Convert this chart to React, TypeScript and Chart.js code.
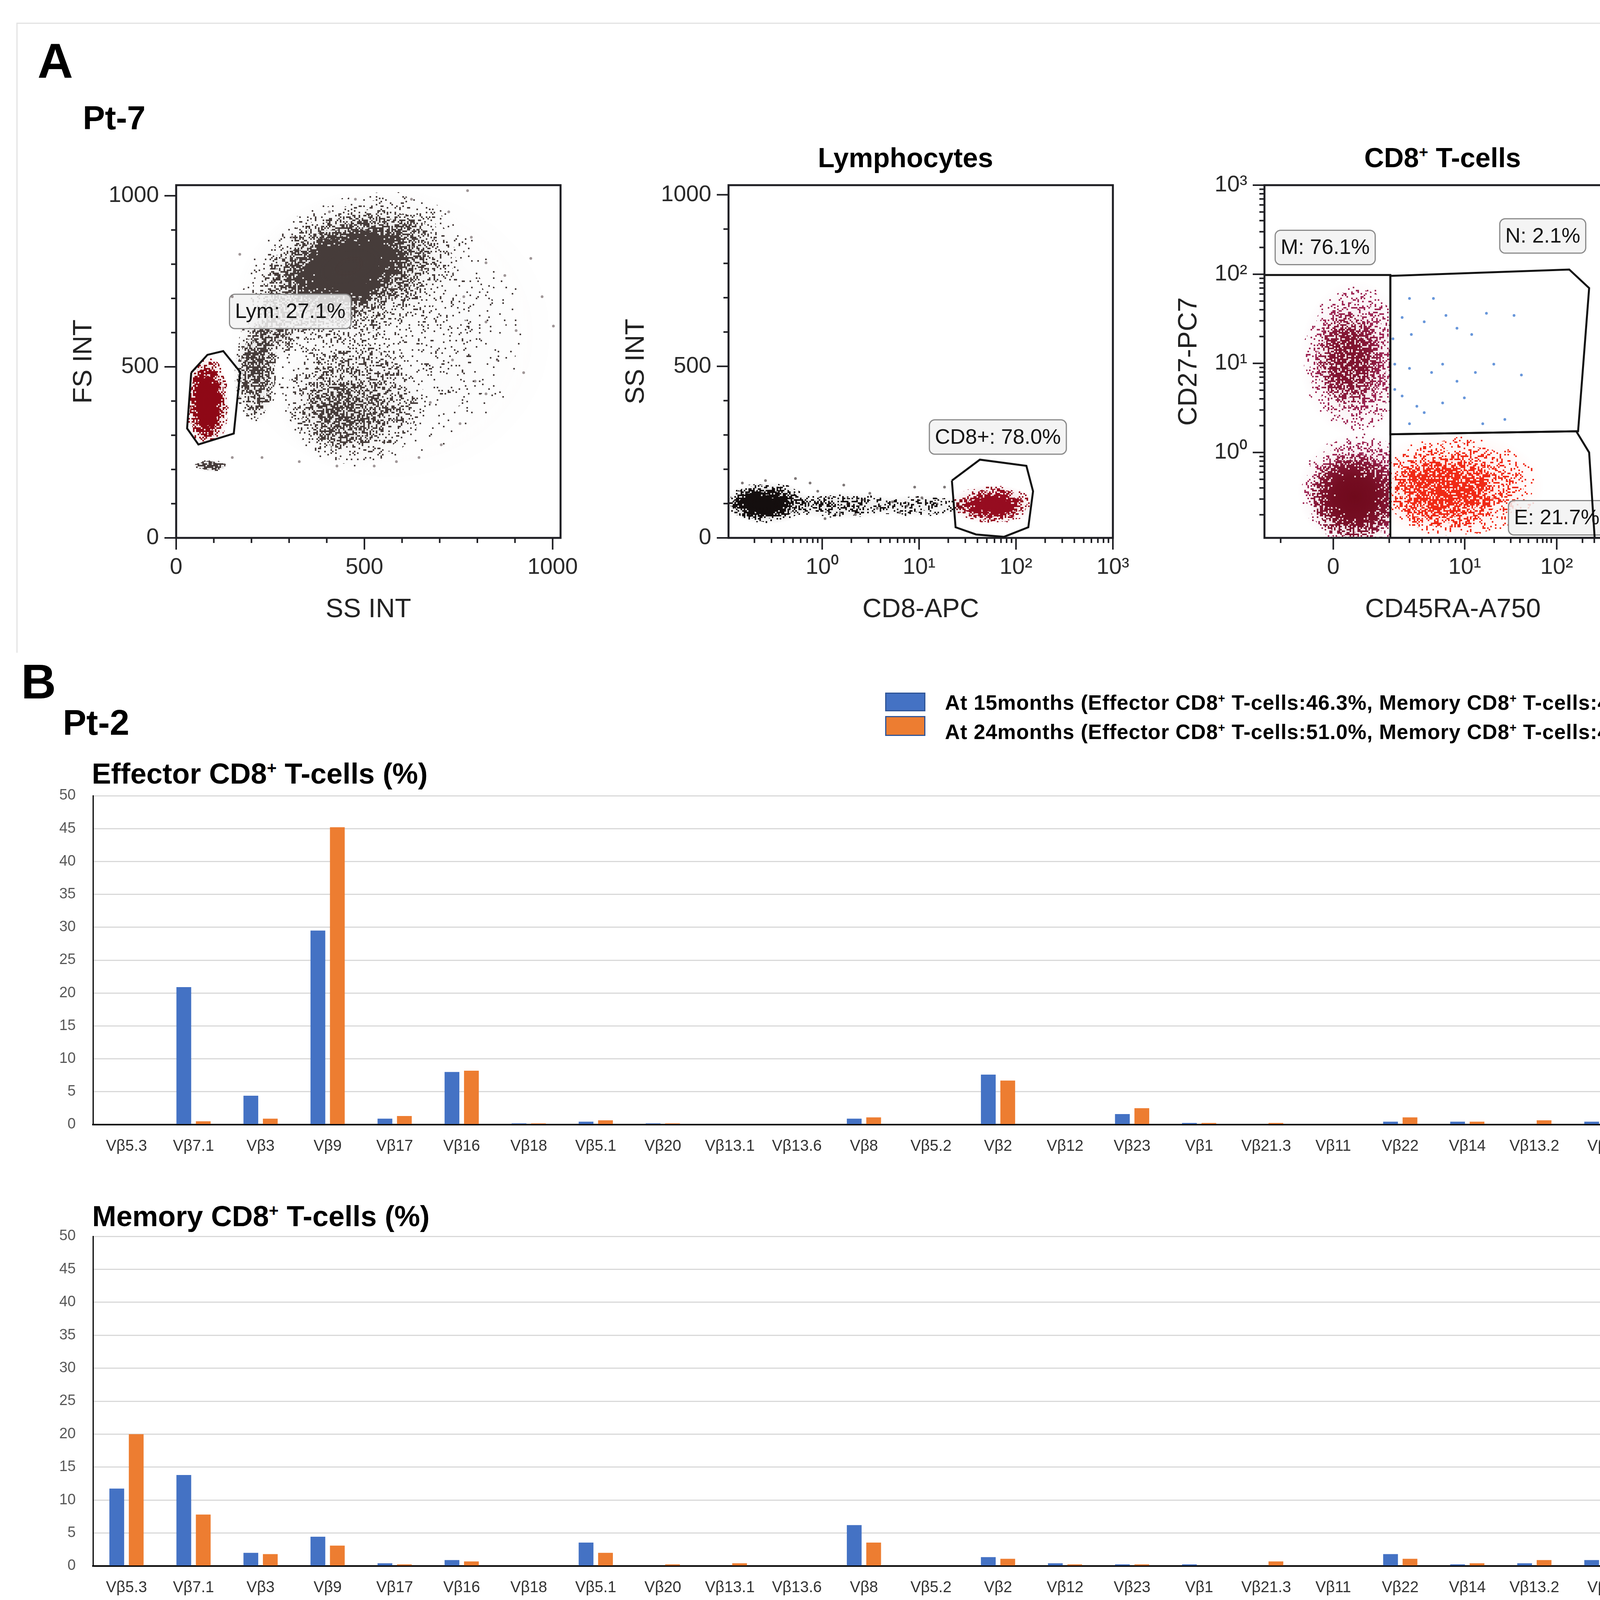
import React, { useEffect, useRef } from "react";
import { Chart, registerables } from "chart.js";
import type { ChartConfiguration, Plugin, Scale } from "chart.js";

Chart.register(...registerables);

// ---------------- Panel B: TCR V-beta repertoire ----------------
const vbetaFamilies = [
  "Vβ5.3", "Vβ7.1", "Vβ3", "Vβ9", "Vβ17", "Vβ16", "Vβ18", "Vβ5.1", "Vβ20", "Vβ13.1", "Vβ13.6", "Vβ8",
  "Vβ5.2", "Vβ2", "Vβ12", "Vβ23", "Vβ1", "Vβ21.3", "Vβ11", "Vβ22", "Vβ14", "Vβ13.2", "Vβ4", "Vβ7.2",
];
const timepointLabels = [
  "At 15months (Effector CD8⁺ T-cells:46.3%, Memory CD8⁺ T-cells:48.1%)",
  "At 24months (Effector CD8⁺ T-cells:51.0%, Memory CD8⁺ T-cells:46.2%)",
];
const effectorAt15 = [0, 20.9, 4.4, 29.5, 0.9, 8.0, 0.2, 0.45, 0.2, 0, 0, 0.9, 0, 7.6, 0, 1.6, 0.25, 0, 0, 0.45, 0.45, 0, 0.45, 0];
const effectorAt24 = [0, 0.5, 0.9, 45.2, 1.3, 8.2, 0.2, 0.65, 0.2, 0, 0, 1.1, 0, 6.7, 0, 2.5, 0.25, 0.25, 0, 1.1, 0.45, 0.65, 0.45, 0];
const memoryAt15 = [11.75, 13.8, 2.0, 4.45, 0.42, 0.9, 0, 3.55, 0, 0, 0, 6.2, 0, 1.35, 0.42, 0.25, 0.25, 0, 0, 1.8, 0.25, 0.42, 0.9, 0.25];
const memoryAt24 = [20.0, 7.8, 1.8, 3.1, 0.25, 0.7, 0, 2.0, 0.25, 0.42, 0, 3.55, 0, 1.1, 0.25, 0.25, 0, 0.7, 0, 1.1, 0.42, 0.9, 0.9, 0.25];
const percentTicks = [0, 5, 10, 15, 20, 25, 30, 35, 40, 45, 50];

// ---------------- Panel A: flow cytometry ----------------
type Pt = { x: number; y: number };
// an event cloud: extent along each axis (data units), event density 0..1, optional tilt in degrees
type Cloud = { x: [number, number]; y: [number, number]; d: number; tilt?: number };

// FS INT vs SS INT
const linearChannelTicks = [0, 100, 200, 300, 400, 500, 600, 700, 800, 900, 1000];
const linearChannelMajors = [0, 500, 1000];
const lymGate: Pt[] = [
  { x: 40, y: 483 }, { x: 83, y: 535 }, { x: 125, y: 546 }, { x: 170, y: 485 },
  { x: 153, y: 305 }, { x: 59, y: 273 }, { x: 29, y: 320 }, { x: 40, y: 483 },
];
const lymphocyteClouds: Cloud[] = [
  { x: [22, 142], y: [250, 540], d: 1 },
  { x: [38, 122], y: [280, 510], d: 1 },
];
const otherLeukocyteClouds: Cloud[] = [
  { x: [130, 1010], y: [160, 1030], d: 0.13 },
  { x: [150, 780], y: [560, 1010], d: 0.35, tilt: 20 },
  { x: [213, 699], y: [638, 946], d: 0.85, tilt: 20 },
  { x: [300, 620], y: [690, 900], d: 1, tilt: 20 },
  { x: [150, 270], y: [330, 640], d: 0.7 },
  { x: [190, 330], y: [520, 720], d: 0.5 },
  { x: [270, 660], y: [200, 590], d: 0.36 },
  { x: [330, 560], y: [250, 470], d: 0.4 },
  { x: [45, 135], y: [193, 228], d: 0.85 },
];
const scatterLooseEvents: Pt[] = [
  { x: 724, y: 953 }, { x: 784, y: 879 }, { x: 823, y: 804 }, { x: 873, y: 767 }, { x: 942, y: 817 },
  { x: 972, y: 705 }, { x: 764, y: 705 }, { x: 823, y: 631 }, { x: 903, y: 606 }, { x: 734, y: 520 },
  { x: 794, y: 458 }, { x: 853, y: 520 }, { x: 675, y: 396 }, { x: 754, y: 334 }, { x: 704, y: 272 },
  { x: 823, y: 421 }, { x: 923, y: 483 }, { x: 1002, y: 619 }, { x: 645, y: 235 }, { x: 585, y: 223 },
  { x: 526, y: 210 }, { x: 427, y: 210 }, { x: 327, y: 223 }, { x: 228, y: 235 }, { x: 149, y: 235 },
  { x: 774, y: 1015 }, { x: 625, y: 990 }, { x: 476, y: 990 }, { x: 407, y: 953 }, { x: 308, y: 879 },
  { x: 169, y: 829 }, { x: 149, y: 705 },
];
const lymLabel = { text: "Lym: 27.1%", x: 303, y: 662 };

// SS INT vs CD8-APC (lymphocytes)
const logTicks = [0.2, 0.3, 0.4, 0.5, 0.6, 0.7, 0.8, 0.9, 1, 2, 3, 4, 5, 6, 7, 8, 9, 10, 20, 30, 40, 50, 60, 70, 80, 90, 100, 200, 300, 400, 500, 600, 700, 800, 900, 1000];
const logDecades = [1, 10, 100, 1000];
const cd8Gate: Pt[] = [
  { x: 21.8, y: 167 }, { x: 42.4, y: 228 }, { x: 128, y: 210 }, { x: 150, y: 136 }, { x: 134, y: 31 },
  { x: 75, y: 3 }, { x: 38.7, y: 10 }, { x: 23.8, y: 31 }, { x: 21.8, y: 167 },
];
const cd8NegClouds: Cloud[] = [
  { x: [0.1, 0.75], y: [40, 165], d: 0.9 },
  { x: [0.1, 0.55], y: [55, 138], d: 1 },
  { x: [0.35, 7], y: [55, 135], d: 0.45 },
  { x: [3, 34], y: [60, 125], d: 0.35 },
];
const cd8PosClouds: Cloud[] = [
  { x: [20, 160], y: [40, 155], d: 0.85 },
  { x: [28, 115], y: [58, 130], d: 1 },
];
const cd8LooseEvents: Pt[] = [
  { x: 0.9, y: 136 }, { x: 1.17, y: 117 }, { x: 1.83, y: 99 }, { x: 2.6, y: 111 }, { x: 3.7, y: 86 },
  { x: 5.3, y: 105 }, { x: 7.5, y: 93 }, { x: 10.7, y: 117 }, { x: 15.3, y: 99 }, { x: 18.3, y: 148 },
  { x: 1.67, y: 154 }, { x: 3.1, y: 130 }, { x: 6.3, y: 74 }, { x: 2.2, y: 68 }, { x: 9.0, y: 148 },
  { x: 0.75, y: 160 }, { x: 0.53, y: 173 }, { x: 0.26, y: 167 }, { x: 0.15, y: 160 }, { x: 1.07, y: 56 },
];
const cd8Label = { text: "CD8+: 78.0%", x: 65, y: 294 };

// CD27-PC7 vs CD45RA-A750 (CD8+ T-cells), x in display channels
const cd45raChannelTicks = [44, 187, 339, 394, 428, 452, 475, 499, 519, 534, 544, 624, 669, 694, 717, 741, 756, 767, 779, 794, 864, 896, 919, 942, 963, 977, 993, 1005, 1017, 1024];
const cd45raChannelMajors = [187, 544, 794, 1024];
const cd45raMajorLabels = ["0", "10¹", "10²", "10³"];
const cd27LogTicks = [0.2, 0.3, 0.4, 0.5, 0.6, 0.7, 0.8, 0.9, 1, 2, 3, 4, 5, 6, 7, 8, 9, 10, 20, 30, 40, 50, 60, 70, 80, 90, 100, 200, 300, 400, 500, 600, 700, 800, 900, 1000];
const memoryGate: Pt[] = [{ x: 0, y: 98 }, { x: 342, y: 98 }, { x: 342, y: 0.11 }];
const naiveGate: Pt[] = [
  { x: 342, y: 96 }, { x: 828, y: 113 }, { x: 882, y: 70 }, { x: 852, y: 1.73 }, { x: 342, y: 1.6 }, { x: 342, y: 96 },
];
const effectorGate: Pt[] = [
  { x: 342, y: 1.6 }, { x: 847, y: 1.73 }, { x: 882, y: 1.0 }, { x: 897, y: 0.11 }, { x: 342, y: 0.11 },
];
const memoryHaloClouds: Cloud[] = [
  { x: [95, 400], y: [1.5, 85], d: 0.55 },
  { x: [90, 430], y: [0.08, 1.7], d: 0.7 },
];
const memoryCoreClouds: Cloud[] = [
  { x: [140, 320], y: [3, 40], d: 0.55 },
  { x: [120, 370], y: [0.1, 1.0], d: 1 },
];
const effectorClouds: Cloud[] = [
  { x: [270, 760], y: [0.1, 1.7], d: 0.5 },
  { x: [330, 640], y: [0.13, 1.05], d: 0.55 },
];
const naiveEvents: Pt[] = [
  { x: 349, y: 18.9 }, { x: 394, y: 53.5 }, { x: 459, y: 53.5 }, { x: 374, y: 32.7 }, { x: 399, y: 21.1 },
  { x: 434, y: 29.3 }, { x: 493, y: 34.5 }, { x: 523, y: 24.8 }, { x: 563, y: 21.1 }, { x: 603, y: 36.5 },
  { x: 678, y: 34.5 }, { x: 354, y: 9.8 }, { x: 394, y: 8.8 }, { x: 454, y: 7.9 }, { x: 484, y: 9.8 },
  { x: 523, y: 6.3 }, { x: 573, y: 7.9 }, { x: 623, y: 9.8 }, { x: 698, y: 7.4 }, { x: 374, y: 4.3 },
  { x: 414, y: 3.3 }, { x: 434, y: 2.8 }, { x: 484, y: 3.6 }, { x: 543, y: 4.1 }, { x: 593, y: 2.1 },
  { x: 653, y: 2.35 }, { x: 394, y: 2.1 }, { x: 354, y: 5.1 },
];
const cd27Labels = [
  { text: "M: 76.1%", x: 165, y: 200 },
  { text: "N: 2.1%", x: 756, y: 269 },
  { text: "E: 21.7%", x: 794, y: 0.185 },
];

// ---------------- styles ----------------
const SANS = '"Liberation Sans", Arial, Helvetica, sans-serif';
const FACS_TICK_FONT = '"Liberation Sans Narrow", "Liberation Sans", Arial, sans-serif';
const seriesColors = ["#4472c4", "#ed7d31"];
const FRAME = "#1d1d22";
const GRAIN = 4; // px size of one plotted event dot

type AxisSpec = {
  type: "linear" | "logarithmic";
  min: number;
  max: number;
  ticks: number[];
  majors: number[];
  label: (v: number) => string;
  title: string;
};
type Population = { clouds: Cloud[]; rgb: string; clip?: Pt[] };
type GateLabel = { text: string; x: number; y: number };
type FacsSpec = {
  x: AxisSpec;
  y: AxisSpec;
  yAxisWidth: number;
  populations: Population[];
  events: { data: Pt[]; color: string }[];
  gates: Pt[][];
  labels: GateLabel[];
};

const isMajor = (list: number[], v: number) =>
  list.some((m) => Math.abs(m - v) <= 1e-6 * Math.max(1, Math.abs(m)));

const supDigits: Record<number, string> = { 0: "⁰", 1: "¹", 2: "²", 3: "³" };
const decadeLabel = (v: number) =>
  isMajor(logDecades, v) ? "10" + supDigits[Math.round(Math.log10(v))] : "";

// fixed ordered-dither threshold per dot cell (gives the dotted look of a dot plot)
function cellThreshold(cx: number, cy: number) {
  let h = (Math.imul(cx, 374761393) + Math.imul(cy, 668265263)) | 0;
  h = Math.imul(h ^ (h >>> 13), 1274126177);
  h ^= h >>> 16;
  return 0.04 + 0.92 * ((h >>> 0) / 4294967296);
}

function drawPopulations(ctx: CanvasRenderingContext2D, chart: Chart, pops: Population[]) {
  const a = chart.chartArea;
  const xs = chart.scales.x;
  const ys = chart.scales.y;
  ctx.save();
  ctx.beginPath();
  ctx.rect(a.left, a.top, a.width, a.height);
  ctx.clip();
  for (const p of pops) {
    ctx.save();
    if (p.clip) {
      ctx.beginPath();
      p.clip.forEach((pt, i) => {
        const px = xs.getPixelForValue(pt.x);
        const py = ys.getPixelForValue(pt.y);
        if (i === 0) ctx.moveTo(px, py);
        else ctx.lineTo(px, py);
      });
      ctx.closePath();
      ctx.clip();
    }
    for (const c of p.clouds) {
      const x0 = xs.getPixelForValue(c.x[0]);
      const x1 = xs.getPixelForValue(c.x[1]);
      const y0 = ys.getPixelForValue(c.y[0]);
      const y1 = ys.getPixelForValue(c.y[1]);
      const rx = Math.max(1, Math.abs(x1 - x0) / 2);
      const ry = Math.max(1, Math.abs(y1 - y0) / 2);
      ctx.save();
      ctx.translate((x0 + x1) / 2, (y0 + y1) / 2);
      if (c.tilt) ctx.rotate((-c.tilt * Math.PI) / 180);
      ctx.scale(rx, ry);
      const g = ctx.createRadialGradient(0, 0, 0, 0, 0, 1);
      g.addColorStop(0, `rgba(${p.rgb},${c.d})`);
      g.addColorStop(0.45, `rgba(${p.rgb},${c.d * 0.85})`);
      g.addColorStop(0.8, `rgba(${p.rgb},${c.d * 0.35})`);
      g.addColorStop(1, `rgba(${p.rgb},0)`);
      ctx.fillStyle = g;
      ctx.beginPath();
      ctx.arc(0, 0, 1, 0, Math.PI * 2);
      ctx.fill();
      ctx.restore();
    }
    ctx.restore();
  }
  ctx.restore();
}

function speckle(img: ImageData, ox: number, oy: number) {
  const { data, width, height } = img;
  for (let y = 0; y < height; y++) {
    const cy = Math.floor((y + oy) / GRAIN);
    for (let x = 0; x < width; x++) {
      const i = (y * width + x) * 4;
      const alpha = data[i + 3] / 255;
      if (alpha === 0) continue;
      const t = cellThreshold(Math.floor((x + ox) / GRAIN), cy);
      data[i + 3] = alpha >= t ? 255 : Math.round(alpha * 45);
    }
  }
}

function drawGateLabels(chart: Chart, labels: GateLabel[]) {
  const { ctx } = chart;
  const xs = chart.scales.x;
  const ys = chart.scales.y;
  ctx.save();
  ctx.font = `54px ${SANS}`;
  ctx.textAlign = "center";
  ctx.textBaseline = "middle";
  for (const l of labels) {
    const px = xs.getPixelForValue(l.x);
    const py = ys.getPixelForValue(l.y);
    const w = ctx.measureText(l.text).width + 28;
    const h = 88;
    ctx.beginPath();
    ctx.roundRect(px - w / 2, py - h / 2, w, h, 14);
    ctx.fillStyle = "rgba(242,242,242,0.85)";
    ctx.fill();
    ctx.strokeStyle = "#8a8a8a";
    ctx.lineWidth = 3;
    ctx.stroke();
    ctx.fillStyle = "#151515";
    ctx.fillText(l.text, px, py + 2);
  }
  ctx.restore();
}

function facsConfig(spec: FacsSpec): ChartConfiguration<"scatter"> {
  const decor: Plugin<"scatter"> = {
    id: "facsDecor",
    beforeDatasetsDraw(chart) {
      const a = chart.chartArea;
      const off = document.createElement("canvas");
      off.width = chart.width;
      off.height = chart.height;
      const octx = off.getContext("2d", { willReadFrequently: true });
      if (!octx) return;
      drawPopulations(octx, chart as unknown as Chart, spec.populations);
      const x0 = Math.floor(a.left);
      const y0 = Math.floor(a.top);
      const img = octx.getImageData(x0, y0, Math.ceil(a.width), Math.ceil(a.height));
      speckle(img, x0, y0);
      octx.putImageData(img, x0, y0);
      chart.ctx.drawImage(off, 0, 0);
      drawGateLabels(chart as unknown as Chart, spec.labels);
    },
    afterDatasetsDraw(chart) {
      const { ctx, chartArea: a } = chart;
      const xs = chart.scales.x;
      const ys = chart.scales.y;
      ctx.save();
      ctx.strokeStyle = FRAME;
      ctx.lineWidth = 4;
      for (const t of xs.ticks) {
        const px = xs.getPixelForValue(t.value);
        const len = isMajor(spec.x.majors, t.value) ? 30 : 13;
        ctx.beginPath();
        ctx.moveTo(px, a.bottom);
        ctx.lineTo(px, a.bottom + len);
        ctx.stroke();
      }
      for (const t of ys.ticks) {
        const py = ys.getPixelForValue(t.value);
        const len = isMajor(spec.y.majors, t.value) ? 30 : 13;
        ctx.beginPath();
        ctx.moveTo(a.left, py);
        ctx.lineTo(a.left - len, py);
        ctx.stroke();
      }
      ctx.lineWidth = 5;
      ctx.strokeRect(a.left, a.top, a.width, a.height);
      ctx.restore();
    },
  };

  const axis = (a: AxisSpec, horizontal: boolean) => ({
    type: a.type,
    min: a.min,
    max: a.max,
    bounds: "data" as const,
    afterBuildTicks: (s: Scale) => {
      s.ticks = a.ticks.filter((v) => v >= a.min && v <= a.max).map((v) => ({ value: v }));
    },
    afterFit: (s: Scale) => {
      if (horizontal) {
        s.height = 225;
        s.paddingLeft = 0;
        s.paddingRight = 0;
      } else {
        s.width = spec.yAxisWidth;
        s.paddingTop = 0;
        s.paddingBottom = 0;
      }
    },
    grid: { display: false, drawTicks: false },
    border: { display: false },
    ticks: {
      autoSkip: false,
      maxRotation: 0,
      minRotation: 0,
      padding: horizontal ? 41 : 44,
      color: "#2a2a2a",
      font: { family: FACS_TICK_FONT, size: 58 },
      callback: (v: number | string) => a.label(Number(v)),
    },
    title: {
      display: true,
      text: a.title,
      color: "#222",
      font: { family: SANS, size: 68 },
      padding: 0,
    },
  });

  return {
    type: "scatter",
    data: {
      datasets: [
        ...spec.gates.map((g) => ({
          data: g,
          showLine: true,
          borderColor: "#111",
          borderWidth: 5,
          pointRadius: 0,
          fill: false,
          tension: 0,
        })),
        ...spec.events.map((e) => ({
          data: e.data,
          pointRadius: 3.5,
          pointBorderWidth: 0,
          backgroundColor: e.color,
          borderColor: e.color,
        })),
      ],
    },
    options: {
      animation: false,
      responsive: false,
      devicePixelRatio: 1,
      events: [],
      layout: { padding: { left: 0, top: 44, right: 85, bottom: 0 } },
      plugins: { legend: { display: false }, tooltip: { enabled: false } },
      scales: { x: axis(spec.x, true), y: axis(spec.y, false) } as never,
    },
    plugins: [decor],
  };
}

function barConfig(at15: number[], at24: number[]): ChartConfiguration<"bar"> {
  return {
    type: "bar",
    data: {
      labels: vbetaFamilies,
      datasets: [at15, at24].map((values, i) => ({
        label: timepointLabels[i],
        data: values,
        backgroundColor: seriesColors[i],
        borderWidth: 0,
        categoryPercentage: 0.58,
        barPercentage: 0.76,
      })),
    },
    options: {
      animation: false,
      responsive: false,
      devicePixelRatio: 1,
      events: [],
      layout: { padding: { left: 0, top: 37, right: 43, bottom: 0 } },
      plugins: { legend: { display: false }, tooltip: { enabled: false } },
      scales: {
        x: {
          afterFit: (s) => {
            s.height = 100;
            s.paddingLeft = 0;
            s.paddingRight = 0;
          },
          grid: { display: false, drawTicks: false },
          border: { display: true, color: "#000", width: 4 },
          ticks: {
            autoSkip: false,
            maxRotation: 0,
            minRotation: 0,
            padding: 32,
            color: "#333",
            font: { family: SANS, size: 40 },
          },
        },
        y: {
          min: 0,
          max: 50,
          afterFit: (s) => {
            s.width = 138;
            s.paddingTop = 0;
            s.paddingBottom = 0;
          },
          afterBuildTicks: (s) => {
            s.ticks = percentTicks.map((v) => ({ value: v }));
          },
          grid: {
            drawTicks: false,
            lineWidth: 3,
            color: (c) => (c.tick && c.tick.value === 0 ? "rgba(0,0,0,0)" : "#d9d9d9"),
          },
          border: { display: true, color: "#000", width: 3 },
          ticks: {
            padding: 44,
            color: "#595959",
            font: { family: SANS, size: 38 },
          },
        },
      },
    },
  };
}

type Box = { x: number; y: number; w: number; h: number };

function ChartCanvas({ box, make }: { box: Box; make: () => ChartConfiguration<any> }) {
  const ref = useRef<HTMLCanvasElement>(null);
  useEffect(() => {
    if (!ref.current) return;
    const chart = new Chart(ref.current, make());
    return () => chart.destroy();
  }, []);
  return (
    <canvas
      ref={ref}
      width={box.w}
      height={box.h}
      style={{ position: "absolute", left: box.x, top: box.y, width: box.w, height: box.h }}
    />
  );
}

function SupPlus({ text }: { text: string }) {
  const parts = text.split("⁺");
  return (
    <>
      {parts.map((p, i) => (
        <React.Fragment key={i}>
          {p}
          {i < parts.length - 1 && (
            <span style={{ fontSize: "0.58em", position: "relative", top: "-0.62em" }}>+</span>
          )}
        </React.Fragment>
      ))}
    </>
  );
}

function Txt({
  x, baseline, size, bold = true, center = false, spacing, children,
}: {
  x: number; baseline: number; size: number; bold?: boolean; center?: boolean; spacing?: number;
  children: React.ReactNode;
}) {
  return (
    <div
      style={{
        position: "absolute",
        left: x,
        top: baseline - 0.8465 * size,
        fontSize: size,
        lineHeight: 1,
        fontWeight: bold ? "bold" : "normal",
        letterSpacing: spacing,
        whiteSpace: "nowrap",
        color: "#000",
        transform: center ? "translateX(-50%)" : undefined,
      }}
    >
      {children}
    </div>
  );
}

const scatterSpec: FacsSpec = {
  x: {
    type: "linear", min: 0, max: 1021, ticks: linearChannelTicks, majors: linearChannelMajors,
    label: (v) => (isMajor(linearChannelMajors, v) ? String(v) : ""), title: "SS INT",
  },
  y: {
    type: "linear", min: 0, max: 1031, ticks: linearChannelTicks, majors: linearChannelMajors,
    label: (v) => (isMajor(linearChannelMajors, v) ? String(v) : ""), title: "FS INT",
  },
  yAxisWidth: 277,
  populations: [
    { clouds: otherLeukocyteClouds, rgb: "70,60,58" },
    { clouds: lymphocyteClouds, rgb: "142,8,22", clip: lymGate },
  ],
  events: [{ data: scatterLooseEvents, color: "rgba(95,80,82,0.6)" }],
  gates: [lymGate],
  labels: [lymLabel],
};

const cd8Spec: FacsSpec = {
  x: {
    type: "logarithmic", min: 0.108, max: 1000, ticks: logTicks, majors: logDecades,
    label: decadeLabel, title: "CD8-APC",
  },
  y: {
    type: "linear", min: 0, max: 1028, ticks: linearChannelTicks, majors: linearChannelMajors,
    label: (v) => (isMajor(linearChannelMajors, v) ? String(v) : ""), title: "SS INT",
  },
  yAxisWidth: 277,
  populations: [
    { clouds: cd8NegClouds, rgb: "20,14,14" },
    { clouds: cd8PosClouds, rgb: "150,12,32", clip: cd8Gate },
  ],
  events: [{ data: cd8LooseEvents, color: "rgba(40,28,28,0.6)" }],
  gates: [cd8Gate],
  labels: [cd8Label],
};

const memoryClip = [...memoryGate, { x: 0, y: 0.11 }];

const cd27Spec: FacsSpec = {
  x: {
    type: "linear", min: 0, max: 1024, ticks: cd45raChannelTicks, majors: cd45raChannelMajors,
    label: (v) => {
      const i = cd45raChannelMajors.findIndex((m) => Math.abs(m - v) < 1e-6);
      return i >= 0 ? cd45raMajorLabels[i] : "";
    },
    title: "CD45RA-A750",
  },
  y: {
    type: "logarithmic", min: 0.11, max: 1000, ticks: cd27LogTicks, majors: logDecades,
    label: decadeLabel, title: "CD27-PC7",
  },
  yAxisWidth: 234,
  populations: [
    { clouds: memoryHaloClouds, rgb: "158,38,84", clip: memoryClip },
    { clouds: memoryCoreClouds, rgb: "112,10,28", clip: memoryClip },
    { clouds: effectorClouds, rgb: "240,42,22", clip: effectorGate },
  ],
  events: [{ data: naiveEvents, color: "rgba(52,115,205,0.75)" }],
  gates: [memoryGate, naiveGate, effectorGate],
  labels: cd27Labels,
};

export default function App() {
  return (
    <div
      style={{
        position: "absolute",
        left: 0,
        top: 0,
        width: 4424,
        height: 4122,
        overflow: "hidden",
        background: "#fff",
        fontFamily: SANS,
      }}
    >
      {/* panel A frame */}
      <div
        style={{
          position: "absolute",
          left: 42,
          top: 58,
          width: 4332,
          height: 1610,
          borderTop: "3px solid #e3e3e3",
          borderLeft: "3px solid #e3e3e3",
          borderRight: "3px solid #e3e3e3",
        }}
      />
      <Txt x={96} baseline={200} size={126}>A</Txt>
      <Txt x={212} baseline={331} size={85}>Pt-7</Txt>
      <Txt x={2318} baseline={428} size={70} center>Lymphocytes</Txt>
      <Txt x={3693} baseline={428} size={70} center>
        <SupPlus text="CD8⁺ T-cells" />
      </Txt>

      <ChartCanvas box={{ x: 174, y: 430, w: 1346, h: 1172 }} make={() => facsConfig(scatterSpec)} />
      <ChartCanvas box={{ x: 1588, y: 430, w: 1346, h: 1172 }} make={() => facsConfig(cd8Spec)} />
      <ChartCanvas box={{ x: 3003, y: 430, w: 1284, h: 1172 }} make={() => facsConfig(cd27Spec)} />

      <Txt x={54} baseline={1788} size={124}>B</Txt>
      <Txt x={161} baseline={1881} size={90}>Pt-2</Txt>

      {/* legend */}
      {timepointLabels.map((label, i) => (
        <React.Fragment key={label}>
          <div
            style={{
              position: "absolute",
              left: 2266,
              top: i === 0 ? 1773 : 1833,
              width: 103,
              height: i === 0 ? 48 : 51,
              boxSizing: "border-box",
              border: "3px solid #2f5597",
              background: seriesColors[i],
            }}
          />
          <Txt x={2419} baseline={i === 0 ? 1817 : 1892} size={53} spacing={1}>
            <SupPlus text={label} />
          </Txt>
        </React.Fragment>
      ))}

      <Txt x={235} baseline={2007} size={74}>
        <SupPlus text="Effector CD8⁺ T-cells (%)" />
      </Txt>
      <ChartCanvas box={{ x: 100, y: 2000, w: 4300, h: 979 }} make={() => barConfig(effectorAt15, effectorAt24)} />

      <Txt x={236} baseline={3140} size={74}>
        <SupPlus text="Memory CD8⁺ T-cells (%)" />
      </Txt>
      <ChartCanvas box={{ x: 100, y: 3128, w: 4300, h: 981 }} make={() => barConfig(memoryAt15, memoryAt24)} />
    </div>
  );
}
